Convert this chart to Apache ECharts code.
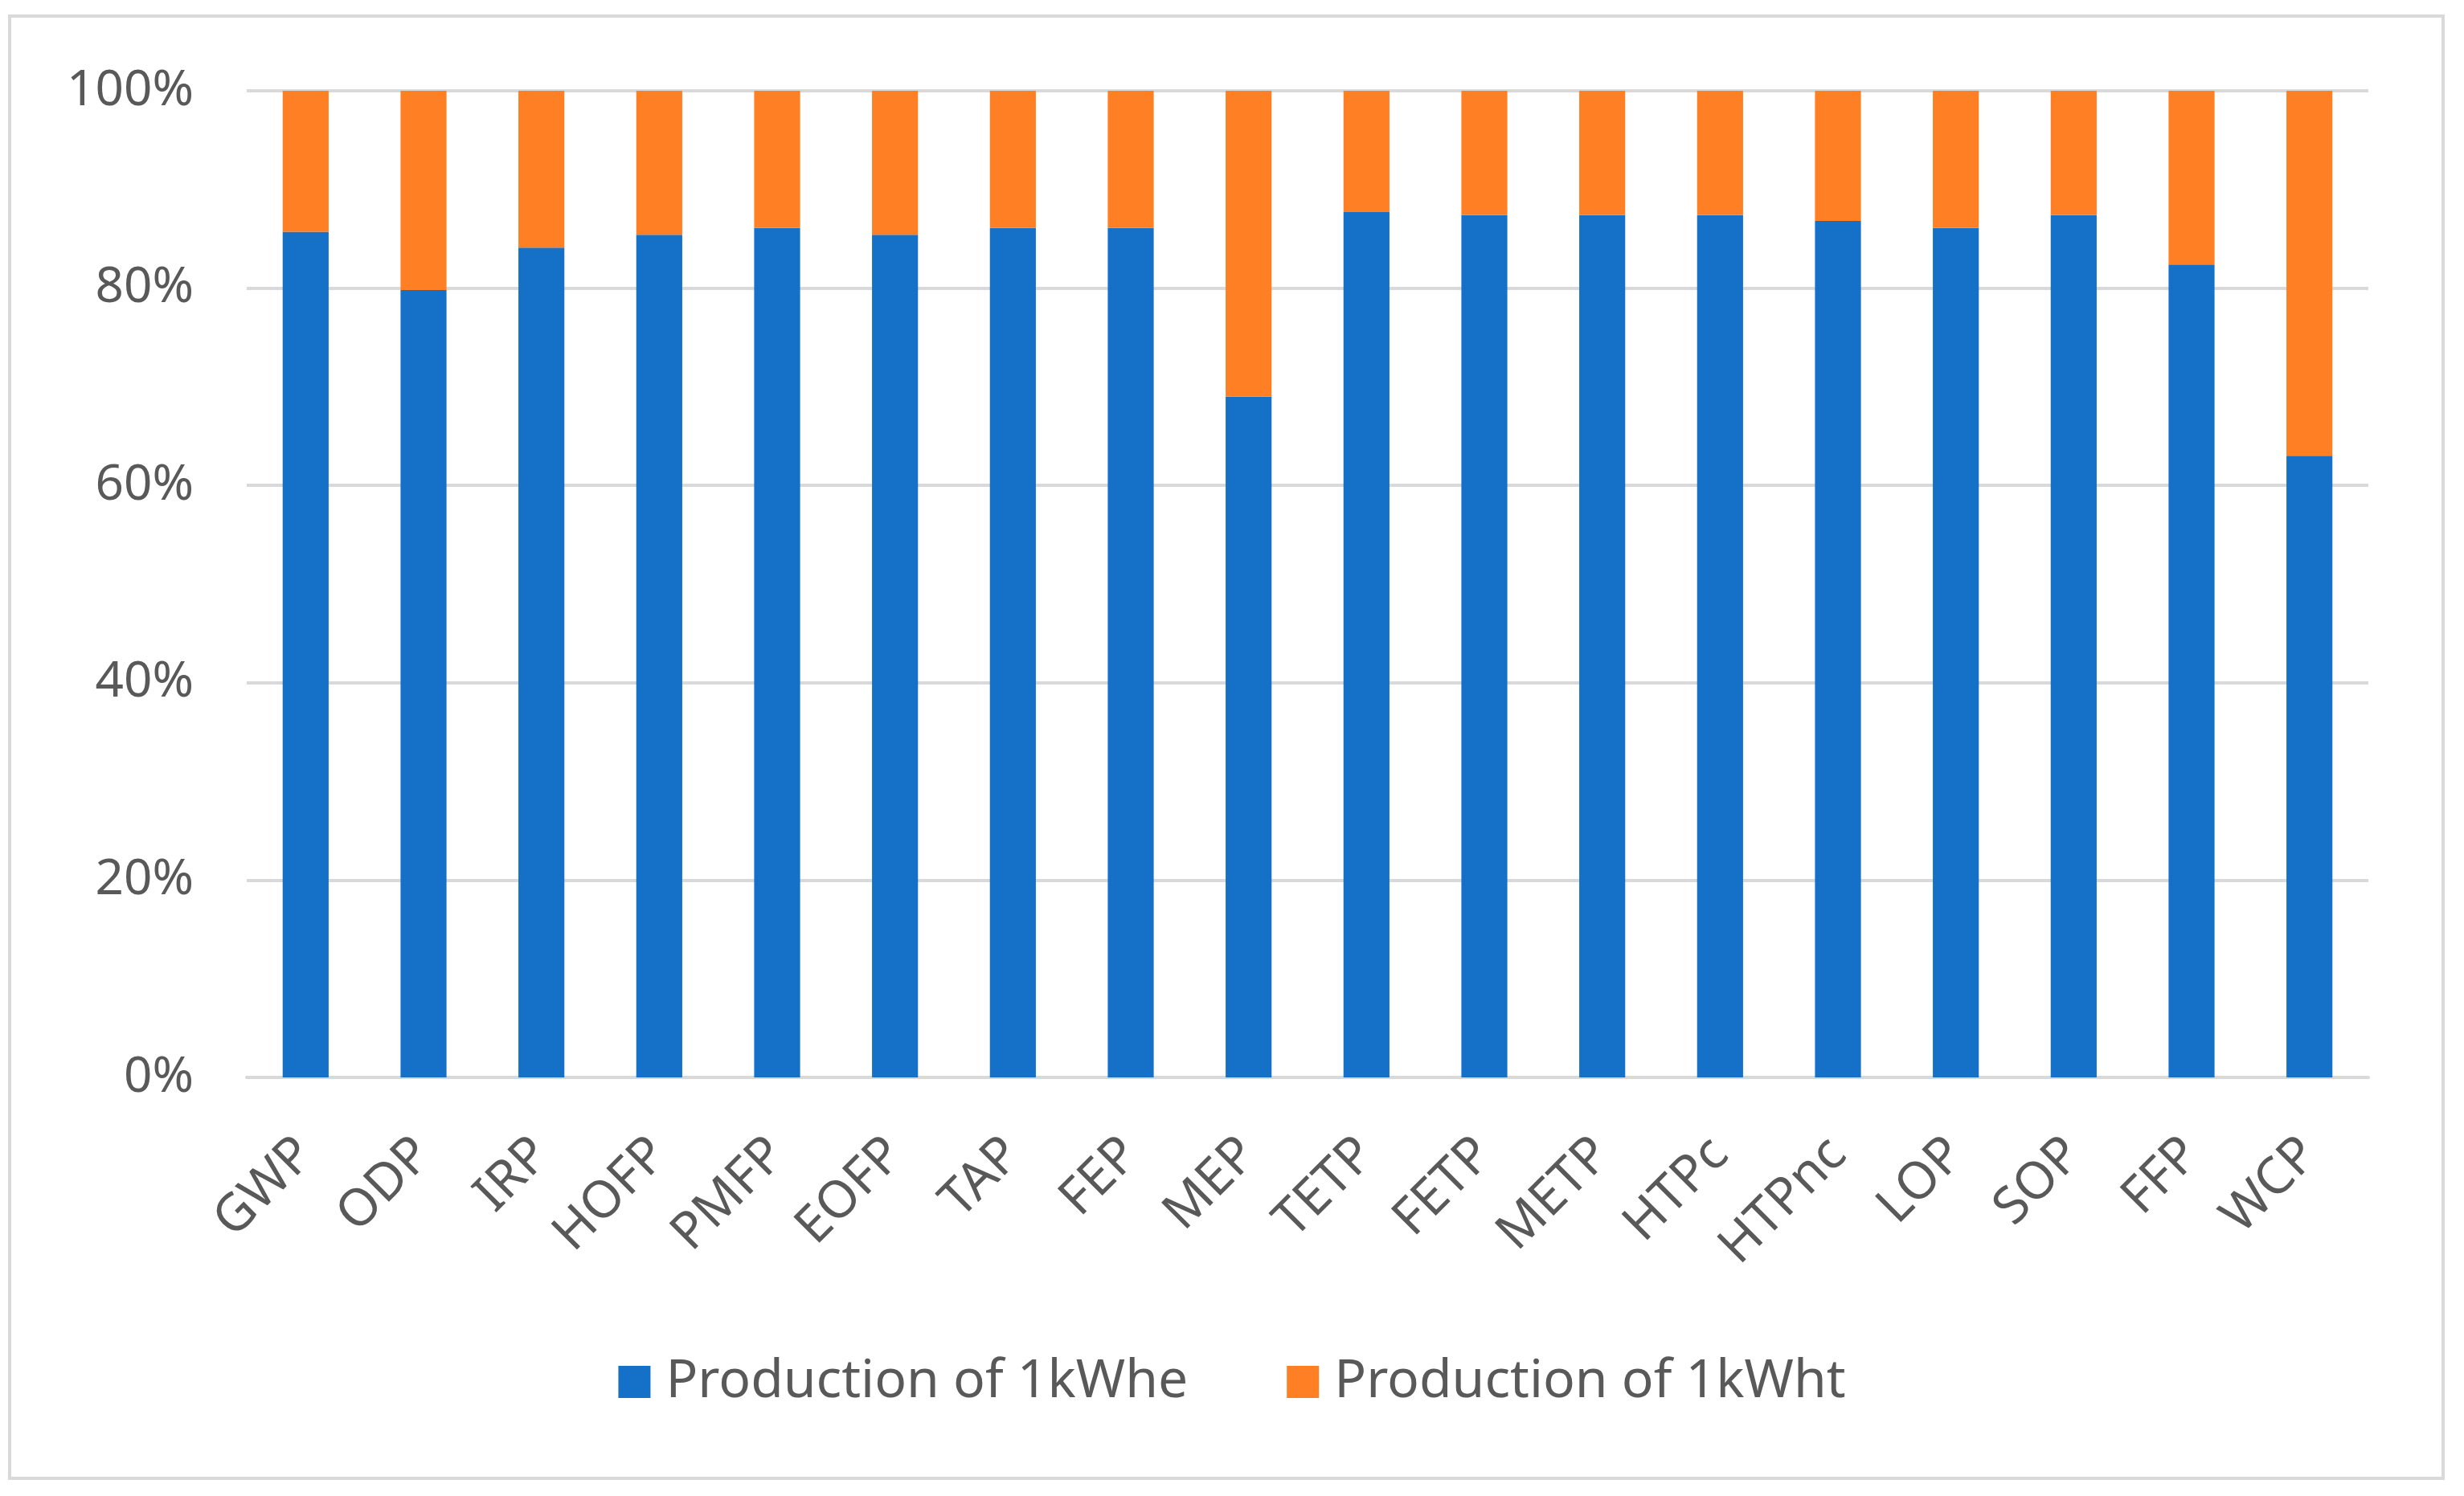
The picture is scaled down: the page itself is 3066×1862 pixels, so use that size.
<!DOCTYPE html>
<html>
<head>
<meta charset="utf-8">
<script src="https://cdn.jsdelivr.net/npm/echarts@6/dist/echarts.min.js"></script>
<style>
  html, body { margin: 0; padding: 0; background: #fff; }
  #main { width: 3066px; height: 1862px; }
</style>
</head>
<body>
<div id="main"></div>
<script>
  // impact categories
  var categories = ['GWP', 'ODP', 'IRP', 'HOFP', 'PMFP', 'EOFP', 'TAP', 'FEP', 'MEP',
                    'TETP', 'FETP', 'METP', 'HTPc', 'HTPnc', 'LOP', 'SOP', 'FFP', 'WCP'];
  // share of each product, in %
  var electricity = [85.7, 79.8, 84.1, 85.4, 86.1, 85.4, 86.1, 86.1, 69.0,
                     87.7, 87.4, 87.4, 87.4, 86.8, 86.1, 87.4, 82.4, 63.0];
  var heat = [14.3, 20.2, 15.9, 14.6, 13.9, 14.6, 13.9, 13.9, 31.0,
              12.3, 12.6, 12.6, 12.6, 13.2, 13.9, 12.6, 17.6, 37.0];
  var seriesNames = ['Production of 1kWhe', 'Production of 1kWht'];
  var yTicks = [0, 20, 40, 60, 80, 100];

  var textColor = '#595959';
  var gridColor = '#d9d9d9';
  var font = 'Noto Sans';

  var chart = echarts.init(document.getElementById('main'));
  chart.setOption({
    animation: false,
    backgroundColor: '#ffffff',
    textStyle: { fontFamily: font },
    graphic: [{
      type: 'rect',
      shape: { x: 12, y: 20, width: 3028, height: 1820 },
      style: { fill: 'none', stroke: gridColor, lineWidth: 4 },
      silent: true
    }],
    grid: {
      left: 307,
      right: 119,
      top: 113,
      bottom: 521
    },
    legend: {
      data: seriesNames,
      left: 'center',
      top: 1682,
      icon: 'rect',
      itemWidth: 40,
      itemHeight: 40,
      itemGap: 123,
      textStyle: {
        fontFamily: font,
        fontSize: 66,
        color: textColor,
        padding: [0, 0, 0, 14]
      }
    },
    xAxis: {
      type: 'category',
      data: categories,
      axisLine: { lineStyle: { color: gridColor, width: 4 } },
      axisTick: { show: false },
      axisLabel: {
        rotate: 45,
        interval: 0,
        margin: 86,
        fontFamily: font,
        fontSize: 64,
        color: textColor
      }
    },
    yAxis: {
      type: 'value',
      min: yTicks[0],
      max: yTicks[yTicks.length - 1],
      interval: yTicks[1] - yTicks[0],
      axisLine: { show: false },
      axisTick: { show: false },
      splitLine: { lineStyle: { color: gridColor, width: 4 } },
      axisLabel: {
        formatter: '{value}%',
        margin: 66,
        fontFamily: font,
        fontSize: 62,
        color: textColor
      }
    },
    series: [
      {
        name: seriesNames[0],
        type: 'bar',
        stack: 'total',
        barWidth: '39%',
        itemStyle: { color: '#1571c8' },
        data: electricity
      },
      {
        name: seriesNames[1],
        type: 'bar',
        stack: 'total',
        barWidth: '39%',
        itemStyle: { color: '#ff7f24' },
        data: heat
      }
    ]
  });
</script>
</body>
</html>
